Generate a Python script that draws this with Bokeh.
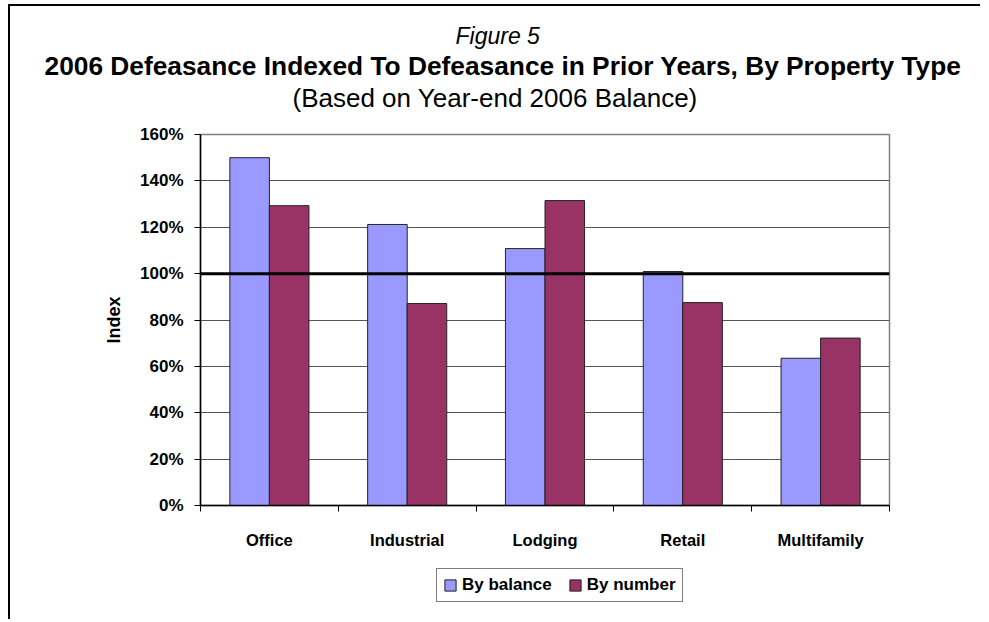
from bokeh.plotting import figure
from bokeh.layouts import column
from bokeh.models import FixedTicker, Legend, LegendItem, Span, Title
from bokeh.embed import file_html
from bokeh.resources import INLINE

# ---- data ----
categories = ["Office", "Industrial", "Lodging", "Retail", "Multifamily"]
by_balance = [150.0, 121.2, 110.8, 100.9, 63.5]
by_number = [129.3, 87.1, 131.5, 87.5, 72.2]
y_ticks = [0, 20, 40, 60, 80, 100, 120, 140, 160]
y_tick_labels = ["0%", "20%", "40%", "60%", "80%", "100%", "120%", "140%", "160%"]
reference_level = 100
series_names = ["By balance", "By number"]
colors = ["#9999FF", "#993366"]

FONT = "Liberation Sans"
W, H = 970, 557

p = figure(width=W, height=H, x_range=(0, len(categories)), y_range=(0, 160),
           output_backend="svg", toolbar_location=None,
           min_border_left=190, min_border_right=91, min_border_top=128, min_border_bottom=58)

# titles: p.title is outermost; added titles stack outward from the frame
p.title.text = "Figure 5"
p.title.align = "left"
p.title.offset = 255
p.title.text_font = FONT
p.title.text_font_style = "italic"
p.title.text_font_size = "23px"
p.title.text_color = "black"
p.title.standoff = 0
p.add_layout(Title(text=" ", text_font_size="18px", standoff=0), "above")
p.add_layout(Title(text="(Based on Year-end 2006 Balance)", align="left", offset=92,
                   text_font=FONT, text_font_style="normal", text_font_size="26px",
                   text_color="black", standoff=0), "above")
p.add_layout(Title(text="2006 Defeasance Indexed To Defeasance in Prior Years, By Property Type",
                   align="left", offset=-156, text_font=FONT, text_font_style="bold",
                   text_font_size="26.3px", text_color="black", standoff=0), "above")

bar_w = 0.287
centers = [i + 0.5 for i in range(len(categories))]
x_bal = [c - bar_w / 2 for c in centers]
x_num = [c + bar_w / 2 for c in centers]

p.vbar(x=x_bal, top=by_balance, width=bar_w, fill_color=colors[0],
       line_color="#222222", line_width=1)
p.vbar(x=x_num, top=by_number, width=bar_w, fill_color=colors[1],
       line_color="#222222", line_width=1)

p.add_layout(Span(location=reference_level, dimension="width", line_color="black", line_width=3))

# axes
xa = p.xaxis[0]
xa.ticker = FixedTicker(ticks=centers, minor_ticks=list(range(len(categories) + 1)))
xa.major_label_overrides = {c: n for c, n in zip(centers, categories)}
xa.major_tick_out = 0
xa.major_tick_in = 0
xa.minor_tick_out = 6
xa.minor_tick_in = 0
xa.minor_tick_line_color = "black"
xa.axis_line_color = "black"
xa.axis_line_width = 1.5
xa.major_label_standoff = 19
xa.major_label_text_font = FONT
xa.major_label_text_font_style = "bold"
xa.major_label_text_font_size = "16.5px"
xa.major_label_text_color = "black"

ya = p.yaxis[0]
ya.ticker = FixedTicker(ticks=y_ticks, minor_ticks=[])
ya.major_label_overrides = {t: l for t, l in zip(y_ticks, y_tick_labels)}
ya.major_tick_out = 6
ya.major_tick_in = 0
ya.major_tick_line_color = "black"
ya.axis_line_color = "black"
ya.axis_line_width = 1.5
ya.major_label_standoff = 11
ya.major_label_text_font = FONT
ya.major_label_text_font_style = "bold"
ya.major_label_text_font_size = "17px"
ya.major_label_text_color = "black"
ya.axis_label = "Index"
ya.axis_label_text_font = FONT
ya.axis_label_text_font_style = "bold"
ya.axis_label_text_font_size = "18px"
ya.axis_label_text_color = "black"
ya.axis_label_standoff = 13

p.xgrid.grid_line_color = None
p.ygrid.grid_line_color = "#555555"
p.ygrid.grid_line_width = 1
p.outline_line_color = "#808080"
p.outline_line_width = 1.5
p.background_fill_color = "white"
p.border_fill_color = "white"

# legend strip below the chart; its bars use the same data but lie outside its visible range
pl = figure(width=W, height=56, x_range=(0, len(categories)), y_range=(1000, 1001),
            output_backend="svg", toolbar_location=None,
            x_axis_location=None, y_axis_location=None,
            min_border_left=0, min_border_right=0, min_border_top=0, min_border_bottom=0)
pl.title.text = ""
pl.xgrid.grid_line_color = None
pl.ygrid.grid_line_color = None
pl.outline_line_color = None
lr1 = pl.vbar(x=x_bal, top=by_balance, width=bar_w, fill_color=colors[0],
              line_color="#222222", line_width=1)
lr2 = pl.vbar(x=x_num, top=by_number, width=bar_w, fill_color=colors[1],
              line_color="#222222", line_width=1)
legend = Legend(items=[LegendItem(label=series_names[0], renderers=[lr1]),
                       LegendItem(label=series_names[1], renderers=[lr2])],
                orientation="horizontal", location=(236, 17),
                border_line_color="black", border_line_width=1,
                label_text_font=FONT, label_text_font_style="bold", label_text_color="black",
                label_text_font_size="17px", glyph_width=14, glyph_height=14,
                label_standoff=5, spacing=16, padding=6, margin=0)
pl.add_layout(legend, "center")

layout = column(p, pl, margin=(4, 0, 0, 8),
                styles={"border-top": "2px solid black", "border-left": "2px solid black"})

open("out.html", "w").write(file_html(layout, INLINE))
